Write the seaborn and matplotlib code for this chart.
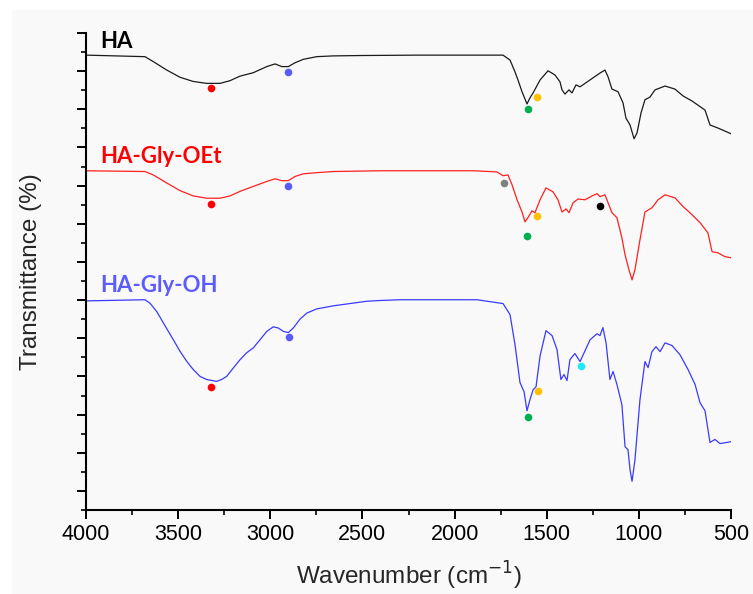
import numpy as np
import pandas as pd
import matplotlib
matplotlib.use("Agg")
import matplotlib.pyplot as plt
from matplotlib.patches import Rectangle
from matplotlib.ticker import MultipleLocator
import seaborn as sns

# ---------------- data (wavenumber, offset transmittance) ----------------
ha_wn = [4000, 3680, 3635, 3562, 3490, 3418, 3345, 3273, 3219, 3164, 3092, 3019, 2974,
         2938, 2902, 2866, 2821, 2748, 2658, 2500, 2200, 1900, 1737, 1699, 1672, 1656,
         1634, 1607, 1591, 1574, 1536, 1493, 1455, 1428, 1417, 1401, 1379, 1363, 1341,
         1319, 1265, 1211, 1184, 1167, 1146, 1113, 1086, 1070, 1048, 1026, 1010, 988, 967,
         940, 912, 858, 804, 760, 712, 641, 614, 571, 500]
ha_t = [114.2, 113.8, 112.5, 110.3, 108.4, 107.3, 106.8, 106.8, 107.5, 108.7, 109.6, 111.2,
        111.9, 111.2, 111.2, 112.2, 113.1, 113.8, 114.0, 114.1, 114.2, 114.2, 114.2, 112.9,
        109.8, 107.7, 104.6, 101.4, 103.0, 104.3, 107.7, 110.1, 109.0, 107.2, 105.1, 104.0,
        105.1, 104.3, 106.4, 105.9, 107.7, 109.5, 110.3, 108.5, 105.3, 104.6, 101.7, 97.7,
        95.9, 92.3, 93.8, 99.1, 102.5, 103.2, 105.1, 106.1, 105.3, 103.5, 102.2, 99.8,
        95.9, 95.1, 93.6]

oet_wn = [4000, 3680, 3635, 3562, 3490, 3418, 3345, 3273, 3219, 3164, 3092, 3019, 2974,
          2938, 2902, 2866, 2821, 2748, 2658, 2400, 1900, 1770, 1737, 1710, 1688, 1661,
          1634, 1618, 1602, 1580, 1564, 1536, 1504, 1466, 1439, 1417, 1395, 1379, 1357,
          1330, 1292, 1254, 1227, 1211, 1184, 1167, 1146, 1119, 1092, 1075, 1054, 1037,
          1021, 994, 967, 929, 896, 858, 804, 760, 723, 668, 625, 603, 571, 533, 500]
oet_t = [83.9, 83.7, 82.8, 80.7, 78.7, 77.3, 76.7, 76.7, 77.3, 78.5, 79.8, 81.1, 81.8,
         81.3, 81.3, 82.4, 83.1, 83.4, 83.7, 83.9, 83.9, 83.6, 82.6, 82.8, 80.2, 76.3,
         73.1, 70.5, 71.6, 73.4, 72.9, 76.3, 79.4, 78.4, 76.3, 73.1, 73.9, 72.9, 75.5,
         76.5, 76.3, 77.3, 77.9, 77.1, 77.6, 75.5, 72.9, 71.6, 66.3, 61.9, 58.0, 55.3,
         58.0, 65.8, 73.1, 74.2, 76.3, 77.6, 76.8, 74.5, 72.9, 70.3, 67.6, 62.7, 62.4,
         61.4, 61.1]

oh_wn = [4000, 3680, 3653, 3616, 3580, 3526, 3490, 3454, 3418, 3381, 3345, 3291, 3264,
         3237, 3201, 3164, 3128, 3092, 3056, 3019, 2984, 2957, 2929, 2902, 2875, 2839,
         2802, 2748, 2658, 2477, 2405, 2296, 1878, 1808, 1737, 1699, 1672, 1645, 1623,
         1607, 1591, 1574, 1558, 1536, 1504, 1471, 1444, 1423, 1406, 1390, 1374, 1347,
         1319, 1265, 1227, 1211, 1195, 1178, 1157, 1140, 1119, 1092, 1075, 1059, 1048,
         1037, 1021, 994, 967, 950, 929, 907, 885, 858, 820, 777, 733, 695, 668, 641,
         614, 587, 560, 500]
oh_t = [49.8, 50.1, 49.2, 47.0, 44.0, 39.6, 36.6, 34.0, 31.8, 30.0, 29.2, 28.7, 29.2,
        30.0, 32.2, 34.4, 36.2, 37.5, 39.6, 41.8, 43.0, 42.7, 41.8, 41.5, 42.7, 45.0,
        46.6, 47.7, 48.5, 49.7, 49.9, 50.1, 50.1, 49.6, 49.1, 46.2, 38.3, 28.4, 26.0,
        21.0, 23.9, 26.5, 27.3, 35.4, 42.0, 40.7, 37.0, 29.2, 30.5, 28.9, 34.4, 36.0,
        33.9, 39.6, 41.2, 40.7, 42.8, 38.8, 29.2, 31.3, 27.9, 22.6, 11.6, 10.8, 5.6,
        2.5, 8.2, 23.9, 33.9, 32.3, 36.5, 37.8, 36.5, 38.8, 38.1, 35.7, 31.8, 27.9,
        23.1, 21.0, 12.7, 13.5, 12.4, 12.9]

series_names = ["HA", "HA-Gly-OEt", "HA-Gly-OH"]
series_colors = ["#1a1a1a", "#ff2020", "#3a3aff"]
label_colors = ["#000000", "#ff0000", "#5b5bff"]
label_y = [116.1, 86.0, 52.0]
label_x = 3924

# peak markers
mark_wn = [3322, 2904, 1602, 1553,
           3322, 2904, 1732, 1607, 1553, 1211,
           3322, 2898, 1602, 1547, 1314]
mark_t = [105.6, 109.8, 100.1, 103.2,
          75.2, 79.9, 80.7, 66.9, 72.1, 74.7,
          27.3, 40.4, 19.5, 26.3, 32.8]
mark_color = ["#ff0000", "#5b5bf5", "#00b050", "#ffc000",
              "#ff0000", "#5b5bf5", "#808080", "#00b050", "#ffc000", "#000000",
              "#ff0000", "#5b5bf5", "#00b050", "#ffc000", "#22e8f8"]

xticks = [4000, 3500, 3000, 2500, 2000, 1500, 1000, 500]

# ---------------- plotting ----------------
sns.set_style("ticks")
plt.rcParams["font.family"] = ["Liberation Sans", "DejaVu Sans"]

fig = plt.figure(figsize=(7.53, 5.94), dpi=100)
fig.patch.set_facecolor("white")
fig.add_artist(Rectangle((12 / 753, 0), 1 - 12 / 753, 1 - 10 / 594,
                         transform=fig.transFigure, facecolor="#f9f9f9",
                         edgecolor="none", zorder=-10))
ax = fig.add_axes([86 / 753, 1 - 510 / 594, (731 - 86) / 753, (510 - 33) / 594])
ax.set_facecolor("none")

frames = [
    pd.DataFrame({"wn": ha_wn, "t": ha_t}),
    pd.DataFrame({"wn": oet_wn, "t": oet_t}),
    pd.DataFrame({"wn": oh_wn, "t": oh_t}),
]
for df, c in zip(frames, series_colors):
    sns.lineplot(data=df, x="wn", y="t", ax=ax, color=c, lw=0.9, sort=False,
                 estimator=None)

mk = pd.DataFrame({"wn": mark_wn, "t": mark_t, "c": mark_color})
for _, r in mk.iterrows():
    ax.plot(r["wn"], r["t"], "o", color=r["c"], ms=5.5, mec="none", zorder=5)

for name, c, y in zip(series_names, label_colors, label_y):
    ax.text(label_x, y, name, color=c, fontsize=16, fontweight="bold",
            family=["Lato", "DejaVu Sans"], ha="left", va="baseline")

ax.set_xlim(4000, 500)
ax.set_ylim(-5, 120)
ax.set_xticks(xticks)
ax.set_xticklabels([str(v) for v in xticks])
ax.xaxis.set_minor_locator(MultipleLocator(250))
ax.yaxis.set_major_locator(MultipleLocator(10))
ax.yaxis.set_minor_locator(MultipleLocator(5))
ax.set_yticklabels([])
ax.tick_params(axis="both", which="major", length=6.5, width=1.4, direction="out",
               labelsize=15.5, colors="black")
ax.tick_params(axis="both", which="minor", length=3.5, width=1.4, direction="out")
for s in ["top", "right"]:
    ax.spines[s].set_visible(False)
for s in ["left", "bottom"]:
    ax.spines[s].set_linewidth(1.5)
    ax.spines[s].set_color("black")

ax.set_xlabel("Wavenumber (cm$^{-1}$)", fontsize=17.5, labelpad=11)
ax.set_ylabel("Transmittance (%)", fontsize=17.5, labelpad=22)

fig.savefig("out.png", dpi=100, facecolor=fig.get_facecolor())
